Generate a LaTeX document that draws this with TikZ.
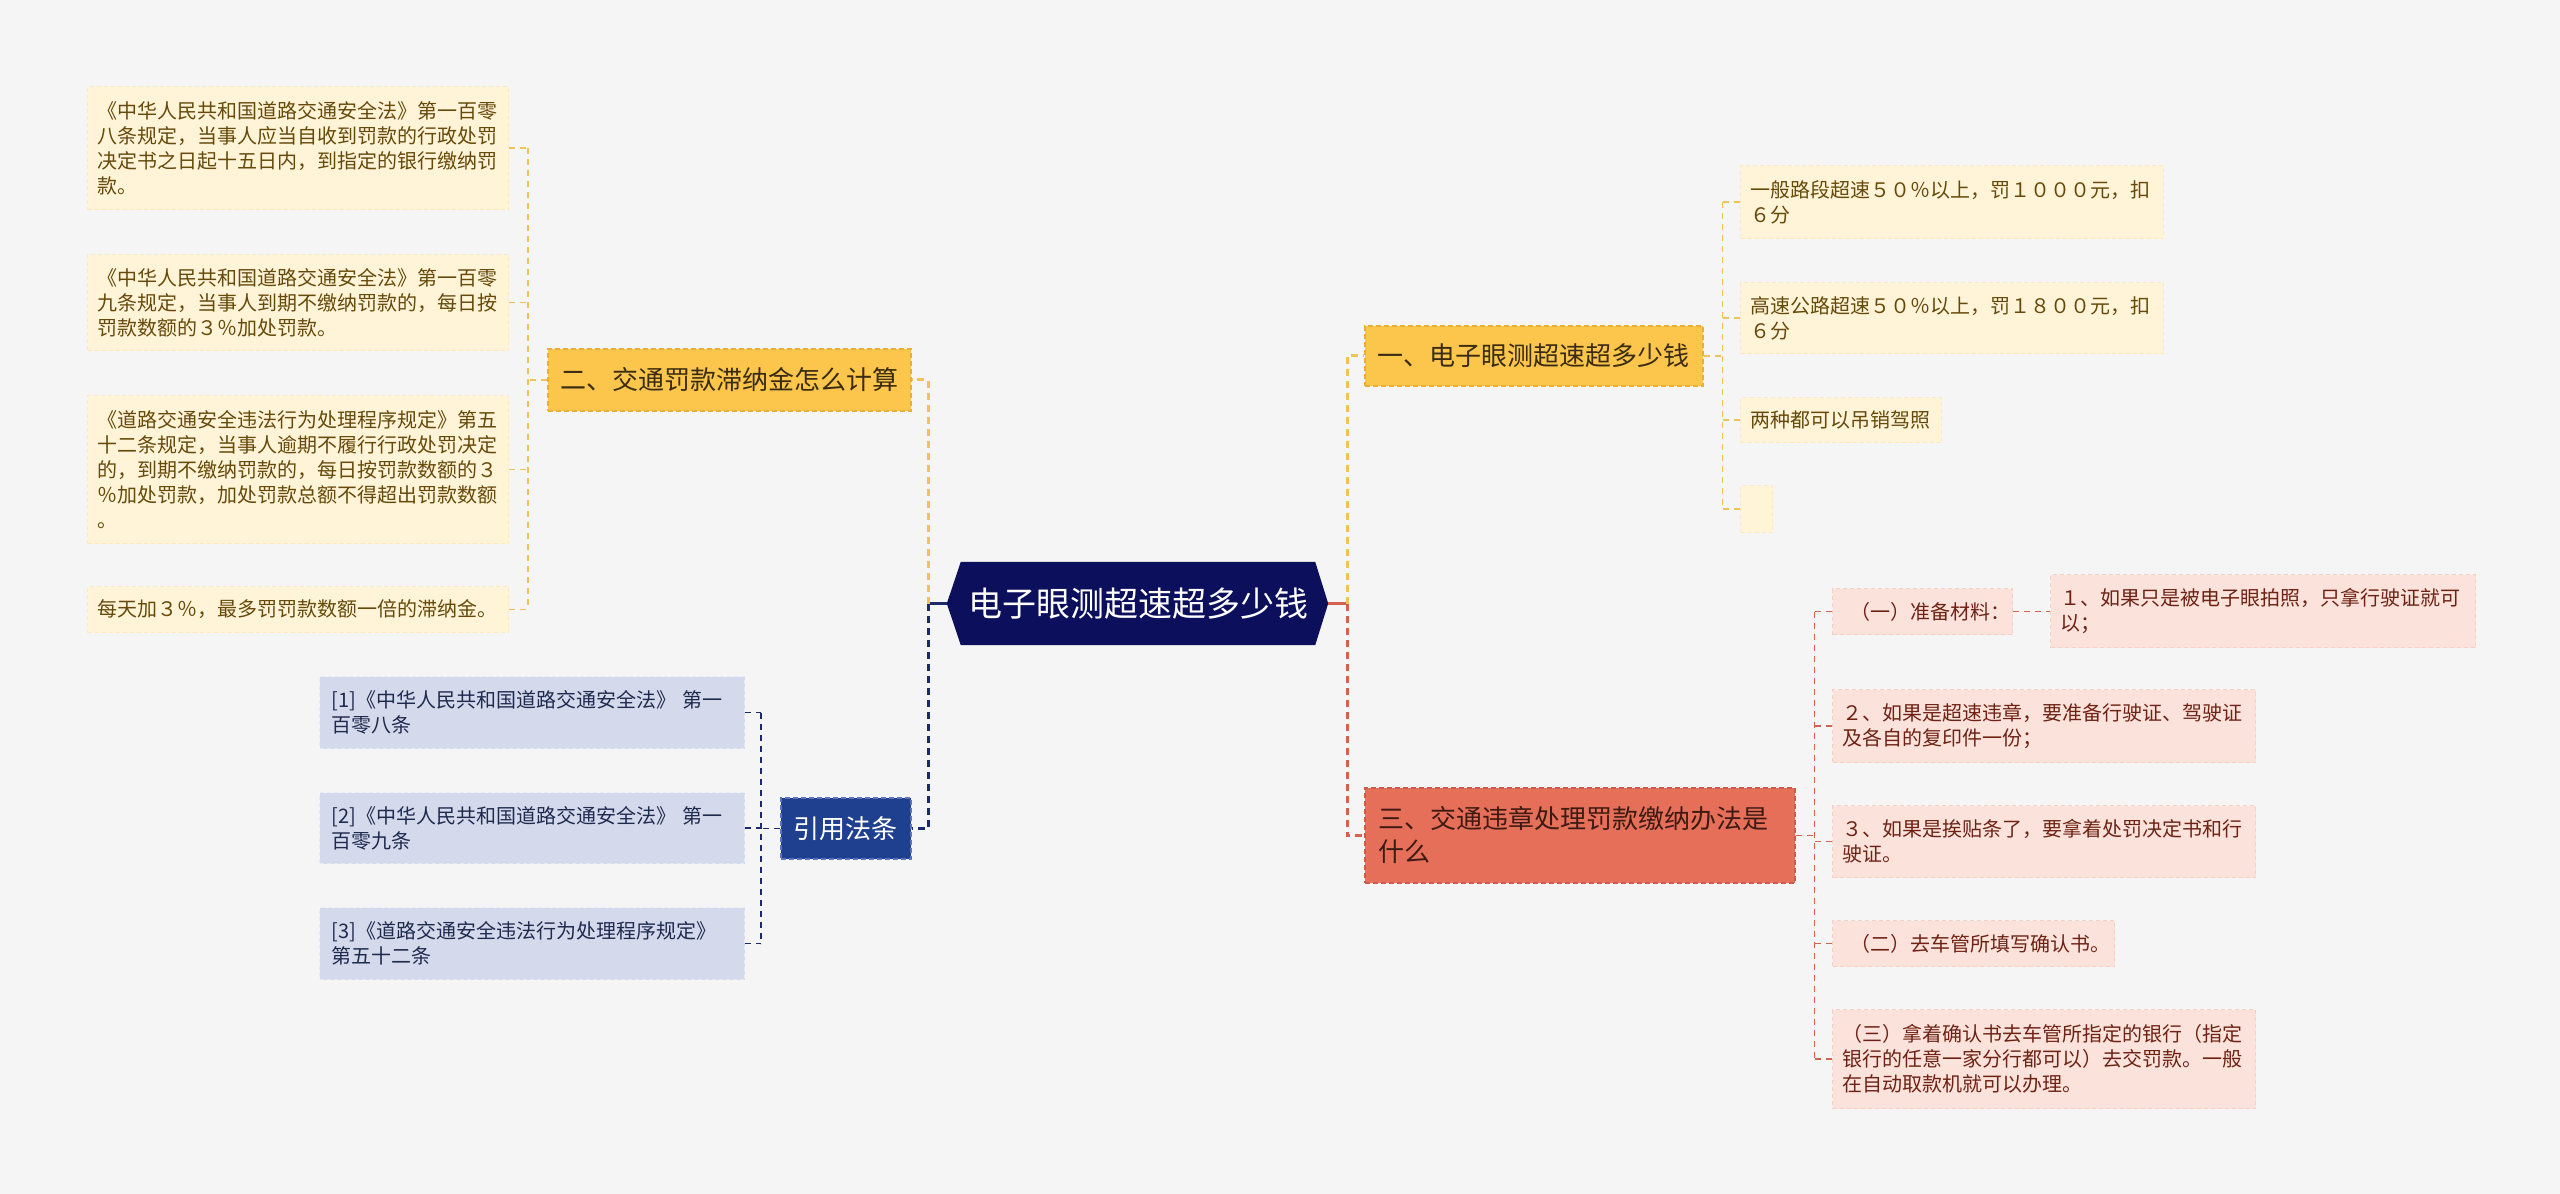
\documentclass[tikz,border=0pt]{standalone}
\usepackage{fontspec}
\setmainfont{Noto Sans CJK SC}
\usetikzlibrary{calc}
\definecolor{bg}{HTML}{F5F5F5}
\definecolor{rootfill}{HTML}{0B0F5C}
\definecolor{navyline}{HTML}{1A2A6A}
\definecolor{ymain}{HTML}{FCC54B}
\definecolor{ymainline}{HTML}{EBAF36}
\definecolor{ymaintext}{HTML}{3A2C12}
\definecolor{yline}{HTML}{F0C35A}
\definecolor{ychild}{HTML}{FFF3D8}
\definecolor{ychildline}{HTML}{FCE9C0}
\definecolor{ychildtext}{HTML}{664A0A}
\definecolor{rmain}{HTML}{E56F59}
\definecolor{rmainline}{HTML}{C95C4A}
\definecolor{rmaintext}{HTML}{3E1A12}
\definecolor{rline}{HTML}{D4624E}
\definecolor{rchild}{HTML}{FBE3DC}
\definecolor{rchildline}{HTML}{F5D0C6}
\definecolor{rchildtext}{HTML}{6E2214}
\definecolor{bmain}{HTML}{1F3F8F}
\definecolor{bmainline}{HTML}{5D75B8}
\definecolor{bchild}{HTML}{D4DAEB}
\definecolor{bchildline}{HTML}{E6EAF3}
\definecolor{bchildtext}{HTML}{1F2A4F}
\newcommand\myfs[2]{\fontsize{#1}{#2}\selectfont}
\tikzset{
  box/.style={rectangle, anchor=north west, inner xsep=10pt, inner ysep=0pt, align=left,
    line width=1pt, dash pattern=on 4pt off 3pt},
  ych/.style={box, fill=ychild, draw=ychildline, text=ychildtext, font=\myfs{20}{25}},
  rch/.style={box, fill=rchild, draw=rchildline, text=rchildtext, font=\myfs{20}{25}},
  bch/.style={box, fill=bchild, draw=bchildline, text=bchildtext, font=\myfs{20}{25}},
  mainbox/.style={rectangle, anchor=north west, inner sep=0pt, line width=1.5pt,
    dash pattern=on 5pt off 3pt},
  ymn/.style={mainbox, fill=ymain, draw=ymainline, text=ymaintext},
  rmn/.style={mainbox, fill=rmain, draw=rmainline, text=rmaintext, align=left},
  bmn/.style={mainbox, fill=bmain, draw=bmainline, text=white},
  ytrunk/.style={draw=yline, line width=3pt, dash pattern=on 7pt off 5pt},
  rtrunk/.style={draw=rline, line width=3pt, dash pattern=on 7pt off 5pt},
  ntrunk/.style={draw=navyline, line width=3pt, dash pattern=on 7pt off 5pt},
  ythin/.style={draw=yline, line width=1.5pt, dash pattern=on 6pt off 5pt},
  rthin/.style={draw=rline, line width=1.5pt, dash pattern=on 6pt off 5pt},
  nthin/.style={draw=navyline, line width=1.5pt, dash pattern=on 6pt off 5pt}
}
\begin{document}
\begin{tikzpicture}[x=1pt,y=-1pt]
\useasboundingbox[fill=bg] (0,0) rectangle (2560,1194);

% root
\node[inner sep=0pt, minimum width=354pt, minimum height=83pt, text=white, font=\myfs{34}{40}] (root) at (1138,603.5) {};
\fill[rootfill] ([xshift=-14pt]root.west) -- (root.north west) -- (root.north east) -- ([xshift=13pt]root.east) -- (root.south east) -- (root.south west) -- cycle;
\node[inner sep=0pt, text=white, font=\myfs{34}{40}] (roottext) at (root.center) {电子眼测超速超多少钱};
\coordinate (rootL) at ([xshift=-14pt]root.west);
\coordinate (rootR) at ([xshift=13pt]root.east);
\coordinate (jl) at (928,603.5);
\coordinate (jr) at (1347,603.5);

% main branches
\node[ymn, minimum width=363pt, minimum height=62pt, font=\myfs{26}{32}] (n2) at (547,348) {二、交通罚款滞纳金怎么计算};
\node[bmn, minimum width=130pt, minimum height=61pt, font=\myfs{26}{32}] (refn) at (780,797) {引用法条};
\node[ymn, minimum width=338pt, minimum height=60pt, font=\myfs{26}{32}] (n1) at (1364,325) {一、电子眼测超速超多少钱};
\node[rmn, minimum width=430pt, minimum height=95pt, inner xsep=14pt, text width=402pt, font=\myfs{26}{33}] (n3) at (1364,787) {三、交通违章处理罚款缴纳办法是\\什么};

% left yellow children
\node[ych, minimum width=421pt, minimum height=123pt, text width=401pt] (l1) at (87,86) {《中华人民共和国道路交通安全法》第一百零\\八条规定，当事人应当自收到罚款的行政处罚\\决定书之日起十五日内，到指定的银行缴纳罚\\款。};
\node[ych, minimum width=421pt, minimum height=96pt, text width=401pt] (l2) at (87,254) {《中华人民共和国道路交通安全法》第一百零\\九条规定，当事人到期不缴纳罚款的，每日按\\罚款数额的３％加处罚款。};
\node[ych, minimum width=421pt, minimum height=148pt, text width=401pt] (l3) at (87,395) {《道路交通安全违法行为处理程序规定》第五\\十二条规定，当事人逾期不履行行政处罚决定\\的，到期不缴纳罚款的，每日按罚款数额的３\\％加处罚款，加处罚款总额不得超出罚款数额\\。};
\node[ych, minimum width=421pt, minimum height=46pt, text width=401pt] (l4) at (87,586) {每天加３％，最多罚罚款数额一倍的滞纳金。};

% reference children
\node[bch, minimum width=425pt, minimum height=72pt, inner xsep=12pt, text width=401pt] (f1) at (319,676) {[1]《中华人民共和国道路交通安全法》 第一\\百零八条};
\node[bch, minimum width=425pt, minimum height=71pt, inner xsep=12pt, text width=401pt] (f2) at (319,792) {[2]《中华人民共和国道路交通安全法》 第一\\百零九条};
\node[bch, minimum width=425pt, minimum height=72pt, inner xsep=12pt, text width=401pt] (f3) at (319,907) {[3]《道路交通安全违法行为处理程序规定》\\第五十二条};

% right yellow children
\node[ych, minimum width=423pt, minimum height=73pt, text width=403pt] (c1) at (1740,165) {一般路段超速５０％以上，罚１０００元，扣\\６分};
\node[ych, minimum width=423pt, minimum height=71pt, text width=403pt] (c2) at (1740,282) {高速公路超速５０％以上，罚１８００元，扣\\６分};
\node[ych, minimum width=201pt, minimum height=45pt, text width=181pt] (c3) at (1740,397) {两种都可以吊销驾照};
\node[ych, minimum width=32pt, minimum height=47pt, inner xsep=0pt] (c4) at (1740,485) {};

% red children
\node[rch, minimum width=180pt, minimum height=46pt, inner xsep=18pt, text width=144pt] (r1) at (1832,588) {（一）准备材料：};
\node[rch, minimum width=425pt, minimum height=73pt, text width=405pt] (r2) at (2050,574) {１、如果只是被电子眼拍照，只拿行驶证就可\\以；};
\node[rch, minimum width=423pt, minimum height=73pt, text width=403pt] (r3) at (1832,689) {２、如果是超速违章，要准备行驶证、驾驶证\\及各自的复印件一份；};
\node[rch, minimum width=423pt, minimum height=72pt, text width=403pt] (r4) at (1832,805) {３、如果是挨贴条了，要拿着处罚决定书和行\\驶证。};
\node[rch, minimum width=282pt, minimum height=46pt, inner xsep=18pt, text width=246pt] (r5) at (1832,920) {（二）去车管所填写确认书。};
\node[rch, minimum width=423pt, minimum height=99pt, text width=403pt] (r6) at (1832,1009) {（三）拿着确认书去车管所指定的银行（指定\\银行的任意一家分行都可以）去交罚款。一般\\在自动取款机就可以办理。};

% root connectors
\draw[navyline, line width=3pt] (rootL) -- (jl);
\draw[rline, line width=3pt] (rootR) -- (jr);
\draw[ytrunk] (jl) |- (n2.east);
\draw[ntrunk] (jl) |- (refn.east);
\draw[ytrunk] (jr) |- (n1.west);
\draw[rtrunk] (jr) |- (n3.west);

% n2 branch
\coordinate (j2) at ($(n2.west)+(-19,0)$);
\draw[ythin] (n2.west) -- (j2);
\draw[ythin] (j2 |- l1.east) -- (j2 |- l4.east);
\foreach \c in {l1,l2,l3,l4} \draw[ythin] (\c.east) -- (j2 |- \c.east);

% ref branch
\coordinate (j4) at ($(refn.west)+(-19,0)$);
\draw[nthin] (refn.west) -- (j4);
\draw[nthin] (j4 |- f1.east) -- (j4 |- f3.east);
\foreach \c in {f1,f2,f3} \draw[nthin] (\c.east) -- (j4 |- \c.east);

% n1 branch
\coordinate (j1) at ($(n1.east)+(19,0)$);
\draw[ythin] (n1.east) -- (j1);
\draw[ythin] (j1 |- c1.west) -- (j1 |- c4.west);
\foreach \c in {c1,c2,c3,c4} \draw[ythin] (j1 |- \c.west) -- (\c.west);

% n3 branch
\coordinate (j3) at ($(n3.east)+(19,0)$);
\draw[rthin] (n3.east) -- (j3);
\draw[rthin] (j3 |- r1.west) -- (j3 |- r6.west);
\foreach \c in {r1,r3,r4,r5,r6} \draw[rthin] (j3 |- \c.west) -- (\c.west);
\draw[rthin] (r1.east) -- (r1.east -| r2.west);
\end{tikzpicture}
\end{document}
